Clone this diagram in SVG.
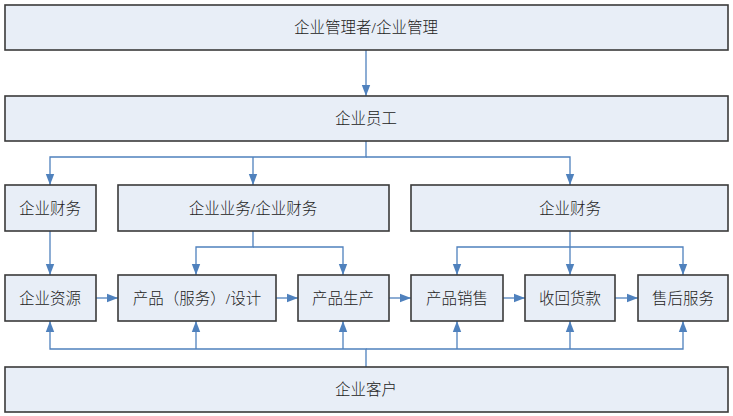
<svg xmlns="http://www.w3.org/2000/svg" width="733" height="416" viewBox="0 0 733 416">
<style>
.box{fill:#E8EEF7;stroke:#3a3a3a;stroke-width:1.6}
.t{font-family:"Liberation Serif","Noto Sans CJK SC",serif;font-size:15.5px;font-weight:300;fill:#222;text-anchor:middle;dominant-baseline:central}
.c{fill:none;stroke:#4F81BD;stroke-width:1.3}
</style>
<defs>
<marker id="ah" viewBox="0 0 11 10" refX="11" refY="5" markerWidth="11" markerHeight="10" markerUnits="userSpaceOnUse" orient="auto">
<path d="M0,0.8 L11,5 L0,9.2 Z" fill="#4F81BD"/>
</marker>
</defs>
<rect width="733" height="416" fill="#fff"/>
<g id="connectors">
<path class="c" d="M366,50 V96" marker-end="url(#ah)"/>
<path class="c" d="M366,141 V157 H50 V185" marker-end="url(#ah)"/>
<path class="c" d="M253,157 V185" marker-end="url(#ah)"/>
<path class="c" d="M366,157 H570 V185" marker-end="url(#ah)"/>
<path class="c" d="M50,231 V275" marker-end="url(#ah)"/>
<path class="c" d="M253,231 V247 H196 V275" marker-end="url(#ah)"/>
<path class="c" d="M253,247 H343 V275" marker-end="url(#ah)"/>
<path class="c" d="M570,231 V275" marker-end="url(#ah)"/>
<path class="c" d="M570,247 H457 V275" marker-end="url(#ah)"/>
<path class="c" d="M570,247 H683 V275" marker-end="url(#ah)"/>
<path class="c" d="M96,298 H118" marker-end="url(#ah)"/>
<path class="c" d="M276,298 H298" marker-end="url(#ah)"/>
<path class="c" d="M389,298 H411" marker-end="url(#ah)"/>
<path class="c" d="M503,298 H525" marker-end="url(#ah)"/>
<path class="c" d="M615,298 H638" marker-end="url(#ah)"/>
<path class="c" d="M366,367 V349 H50 V321" marker-end="url(#ah)"/>
<path class="c" d="M196,349 V321" marker-end="url(#ah)"/>
<path class="c" d="M343,349 V321" marker-end="url(#ah)"/>
<path class="c" d="M366,349 H683 V321" marker-end="url(#ah)"/>
<path class="c" d="M457,349 V321" marker-end="url(#ah)"/>
<path class="c" d="M570,349 V321" marker-end="url(#ah)"/>
</g>
<g id="n-manager"><rect class="box" x="5" y="5" width="723" height="45"/><text class="t" x="366" y="27">企业管理者/企业管理</text></g>
<g id="n-staff"><rect class="box" x="5" y="96" width="723" height="45"/><text class="t" x="366" y="118">企业员工</text></g>
<g id="n-finance1"><rect class="box" x="5" y="185" width="91" height="46"/><text class="t" x="50" y="208">企业财务</text></g>
<g id="n-business"><rect class="box" x="118" y="185" width="271" height="46"/><text class="t" x="253" y="208">企业业务/企业财务</text></g>
<g id="n-finance2"><rect class="box" x="411" y="185" width="317" height="46"/><text class="t" x="570" y="208">企业财务</text></g>
<g id="n-resource"><rect class="box" x="5" y="275" width="91" height="46"/><text class="t" x="50" y="298">企业资源</text></g>
<g id="n-design"><rect class="box" x="118" y="275" width="158" height="46"/><text class="t" x="197" y="298">产品（服务）/设计</text></g>
<g id="n-produce"><rect class="box" x="298" y="275" width="91" height="46"/><text class="t" x="343" y="298">产品生产</text></g>
<g id="n-sales"><rect class="box" x="411" y="275" width="92" height="46"/><text class="t" x="457" y="298">产品销售</text></g>
<g id="n-payment"><rect class="box" x="525" y="275" width="90" height="46"/><text class="t" x="570" y="298">收回货款</text></g>
<g id="n-service"><rect class="box" x="638" y="275" width="90" height="46"/><text class="t" x="683" y="298">售后服务</text></g>
<g id="n-customer"><rect class="box" x="5" y="367" width="723" height="45"/><text class="t" x="366" y="389">企业客户</text></g>
</svg>
